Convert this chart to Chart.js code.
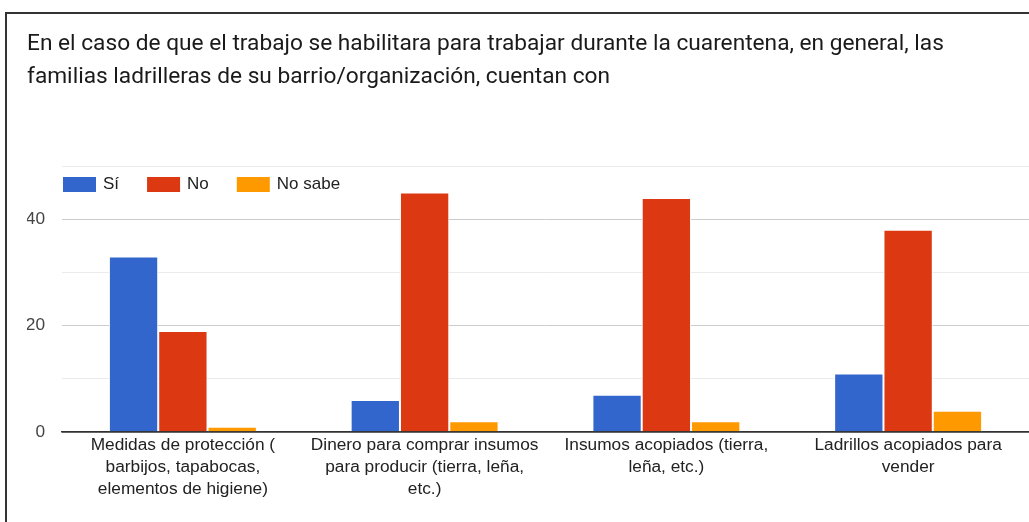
<!DOCTYPE html>
<html>
<head>
<meta charset="utf-8">
<script src="https://cdn.jsdelivr.net/npm/chart.js@4"></script>
<style>
  html, body { margin: 0; padding: 0; background: #fff; }
  #wrap { position: relative; width: 1029px; height: 522px; overflow: hidden; }
  #frame { position: absolute; left: 5px; top: 12px; width: 1100px; height: 600px;
           border-left: 2px solid #333; border-top: 2px solid #333; box-sizing: border-box; }
  canvas { position: absolute; left: 0; top: 0; }
</style>
</head>
<body>
<div id="wrap">
  <div id="frame"></div>
  <canvas id="c" width="1029" height="522"></canvas>
</div>
<script>
const titleLines = [
  "En el caso de que el trabajo se habilitara para trabajar durante la cuarentena, en general, las",
  "familias ladrilleras de su barrio/organización, cuentan con"
];
const categories = [
  ["Medidas de protección (", "barbijos, tapabocas,", "elementos de higiene)"],
  ["Dinero para comprar insumos", "para producir (tierra, leña,", "etc.)"],
  ["Insumos acopiados (tierra,", "leña, etc.)"],
  ["Ladrillos acopiados para", "vender"]
];
const seriesNames = ["Sí", "No", "No sabe"];
const siValues = [33, 6, 7, 11];
const noValues = [19, 45, 44, 38];
const noSabeValues = [1, 2, 2, 4];
const yTicks = [0, 20, 40];

const colors = ["#3366cc", "#dc3912", "#ff9900"];
const FONT = "'Liberation Sans', Arial, sans-serif";

const customLegend = {
  id: 'customLegend',
  afterDraw(chart) {
    const ctx = chart.ctx;
    const area = chart.chartArea;
    let x = area.left + 1;
    const yc = 184.5;
    ctx.save();
    ctx.font = "17px " + FONT;
    ctx.textBaseline = 'middle';
    ctx.textAlign = 'left';
    chart.data.datasets.forEach((ds) => {
      ctx.fillStyle = ds.backgroundColor;
      ctx.fillRect(x, yc - 7.5, 33, 15);
      ctx.fillStyle = '#222';
      ctx.fillText(ds.label, x + 40, yc);
      x = x + 40 + ctx.measureText(ds.label).width + 28;
    });
    ctx.restore();
  }
};

new Chart(document.getElementById('c'), {
  type: 'bar',
  data: {
    labels: categories,
    datasets: [
      { label: seriesNames[0], data: siValues, backgroundColor: colors[0] },
      { label: seriesNames[1], data: noValues, backgroundColor: colors[1] },
      { label: seriesNames[2], data: noSabeValues, backgroundColor: colors[2] }
    ].map(d => Object.assign(d, {
      borderColor: '#ffffff', borderWidth: 1,
      categoryPercentage: 0.612, barPercentage: 1.0
    }))
  },
  options: {
    responsive: false,
    animation: false,
    events: [],
    layout: { padding: { left: 27, top: 28, right: 0, bottom: 0 } },
    plugins: {
      legend: { display: false },
      tooltip: { enabled: false },
      title: {
        display: true,
        text: titleLines,
        align: 'start',
        color: '#1a1a1a',
        font: { family: "Roboto, 'Noto Sans', sans-serif", size: 22.7, weight: 'normal', lineHeight: 33 / 22.7 },
        padding: { top: 0, bottom: 72 }
      }
    },
    scales: {
      x: {
        grid: { display: false, drawTicks: false },
        border: { display: true, color: '#333', width: 1.5 },
        ticks: {
          color: '#222',
          font: { family: FONT, size: 17.3, lineHeight: 22 / 17.3 },
          padding: 2,
          maxRotation: 0,
          autoSkip: false
        },
        afterFit: (s) => { s.height = 90; }
      },
      y: {
        min: 0, max: 50,
        border: { display: false },
        grid: {
          drawTicks: false,
          color: (c) => c.tick.value === 0 ? '#333' : (yTicks.includes(c.tick.value) ? '#cccccc' : '#ebebeb'),
          lineWidth: (c) => c.tick.value === 0 ? 1.5 : 1
        },
        ticks: {
          stepSize: 10,
          color: '#444',
          font: { family: FONT, size: 17.3 },
          padding: 17,
          callback: (v) => yTicks.includes(v) ? String(v) : ''
        },
        afterFit: (s) => { s.width = 35; }
      }
    }
  },
  plugins: [customLegend]
});
</script>
</body>
</html>
